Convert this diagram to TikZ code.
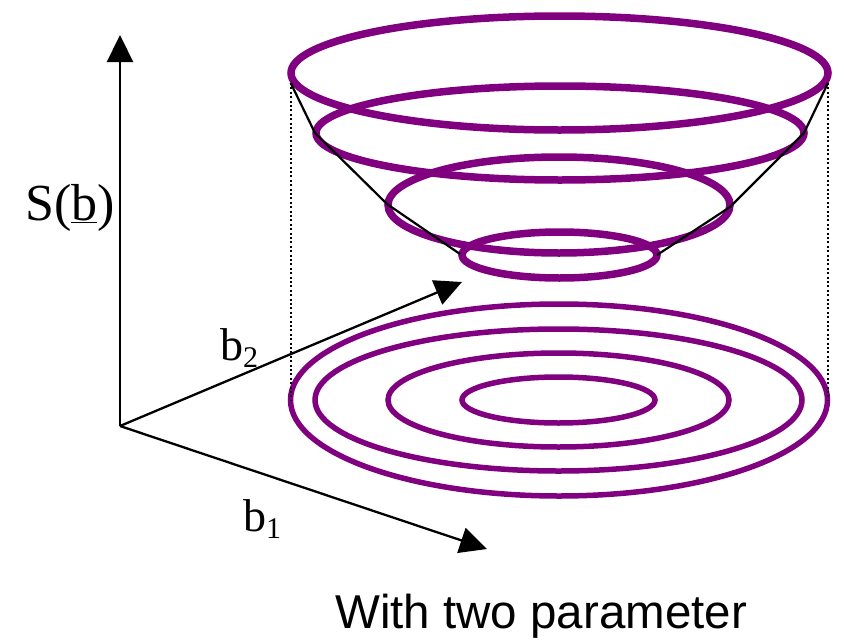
\documentclass[tikz,border=0pt]{standalone}
\usepackage{fontspec}
\setmainfont{Liberation Serif}
\newfontfamily\arialfont{Liberation Sans}
\usetikzlibrary{arrows.meta}
\definecolor{ringpurple}{RGB}{128,0,128}
\begin{document}
\begin{tikzpicture}[x=1pt,y=-1pt,
  ring/.style={draw=ringpurple, line width=7.5pt},
  contour/.style={draw=ringpurple, line width=5.5pt},
  axis/.style={draw=black, line width=2.3pt, -{Triangle[length=27pt,width=26pt]}},
  guide/.style={draw=black, line width=2pt, dash pattern=on 2pt off 2.4pt},
  hull/.style={draw=black, line width=2.2pt, line join=round},
  lab/.style={anchor=base west, inner sep=0pt}
]
\useasboundingbox (0,0) rectangle (844,640);

% surface rings (top)
\draw[ring] (559.5,73) ellipse [x radius=268.5pt, y radius=57pt];
\draw[ring] (560,133) ellipse [x radius=244pt, y radius=47pt];
\draw[ring] (559,205) ellipse [x radius=171pt, y radius=48pt];
\draw[ring] (559.5,255) ellipse [x radius=97.5pt, y radius=23pt];

% contours (bottom)
\draw[contour] (559,400) ellipse [x radius=268.5pt, y radius=96pt];
\draw[contour] (558.5,400) ellipse [x radius=243.5pt, y radius=71pt];
\draw[contour] (558.5,400) ellipse [x radius=170.5pt, y radius=47pt];
\draw[contour] (558.5,400) ellipse [x radius=96.5pt, y radius=23pt];

% named points
\coordinate (L0) at (290.7,83);
\coordinate (L1) at (315,133);
\coordinate (L2) at (387,204);
\coordinate (L3) at (460,254);
\coordinate (R0) at (828,83);
\coordinate (R1) at (804,133);
\coordinate (R2) at (730,207);
\coordinate (R3) at (657,255);
\coordinate (LB) at (290.7,400);
\coordinate (RB) at (828,400);

% hull lines
\draw[hull] (L0) -- (L1) -- (L2) -- (L3);
\draw[hull] (R0) -- (R1) -- (R2) -- (R3);

% dotted projections
\draw[guide] (L0) -- (LB);
\draw[guide] (R0) -- (RB);

% axes
\coordinate (O) at (120,426);
\coordinate (Stip) at (120,35);
\coordinate (B2tip) at (462,282);
\coordinate (B1tip) at (487,549);
\draw[axis] (O) -- (Stip);
\draw[axis] (O) -- (B2tip);
\draw[axis] (O) -- (B1tip);

% labels
\node[lab, font=\fontsize{52}{52}\selectfont] (slab) at (25,220) {S(\underline{b})};
\node[lab, font=\fontsize{46}{46}\selectfont] (b2lab) at (220,360) {b\raisebox{-7pt}{\fontsize{30}{30}\selectfont 2}};
\node[lab, font=\fontsize{46}{46}\selectfont] (b1lab) at (243,531) {b\raisebox{-7pt}{\fontsize{30}{30}\selectfont 1}};
\node[lab, font=\arialfont\fontsize{47.5}{47.5}\selectfont] (cap) at (335,628) {With two parameter};
\end{tikzpicture}
\end{document}
